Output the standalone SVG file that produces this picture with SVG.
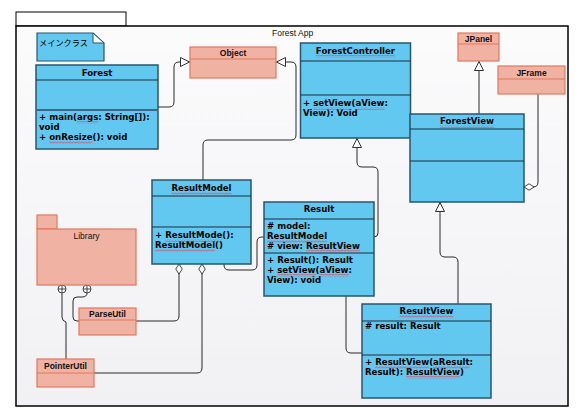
<svg xmlns="http://www.w3.org/2000/svg" width="585" height="416" viewBox="0 0 585 416">
  <defs>
    <linearGradient id="frameBg" x1="0" y1="0" x2="0" y2="1">
      <stop offset="0" stop-color="#fbfbfc"/>
      <stop offset="1" stop-color="#f1f1f4"/>
    </linearGradient>
    <!-- red squiggle used under flagged words -->
    <pattern id="wave" patternUnits="userSpaceOnUse" width="3" height="3">
      <path d="M0,2.5 L1.5,0.7 L3,2.5" fill="none" stroke="#e8405a" stroke-width="0.8"/>
    </pattern>
    <marker id="gen" viewBox="0 0 10 10" refX="10" refY="5" markerWidth="10" markerHeight="10" markerUnits="userSpaceOnUse" orient="auto">
      <path d="M0.5,0.5 L9.5,5 L0.5,9.5 Z" fill="#ffffff" stroke="#333333" stroke-width="1"/>
    </marker>
    <marker id="agg" viewBox="0 0 12 8" refX="11.5" refY="4" markerWidth="11" markerHeight="8" markerUnits="userSpaceOnUse" orient="auto">
      <path d="M0.5,4 L6,0.5 L11.5,4 L6,7.5 Z" fill="#ffffff" stroke="#333333" stroke-width="1"/>
    </marker>
    <style>
      .cls { fill: #62c8f0; stroke: #27566f; stroke-width: 1.5; }
      .sep { stroke: #1c2f3a; stroke-width: 1; }
      .sep2 { stroke: #3b6883; stroke-width: 2; }
      .ext { fill: #f0b2a2; stroke: #e0785f; stroke-width: 1.2; }
      .extsep { stroke: #e0785f; stroke-width: 1; }
      .t { font-family: "DejaVu Sans", Verdana, sans-serif; font-weight: bold; font-size: 8.6px; fill: #000; }
      .th { text-anchor: middle; }
      .s { font-family: "Liberation Sans", Arial, sans-serif; font-weight: bold; font-size: 8.5px; fill: #111; text-anchor: middle; }
      .lbl { font-family: "Liberation Sans", Arial, sans-serif; font-size: 8.5px; fill: #111; }
      .wv { fill: url(#wave); }
      .conn { fill: none; stroke: #2a2a2a; stroke-width: 1; }
    </style>
  </defs>

  <!-- diagram frame with its name tab -->
  <g id="frame">
    <rect x="16" y="12" width="110" height="14" fill="#ffffff" stroke="#000" stroke-width="1"/>
    <rect x="16" y="26" width="552" height="380" fill="url(#frameBg)" stroke="#000" stroke-width="1.5"/>
    <text class="lbl" x="272" y="36">Forest App</text>
  </g>

  <!-- note -->
  <g id="note-main">
    <path d="M37,33 H93 L104,43 V61 H37 Z" fill="#62c8f0" stroke="#27566f" stroke-width="1.2"/>
    <path d="M93,33 V43 H104 Z" fill="#ffffff" stroke="#27566f" stroke-width="1"/>
    <text x="39" y="46" font-family="'Noto Sans CJK JP', sans-serif" font-size="8.2px" fill="#000">メインクラス</text>
  </g>

  <!-- connectors -->
  <g id="connectors">
    <path class="conn" d="M158,107 H169 Q174,107 174,102 V67 Q174,62 179,62 H190" marker-end="url(#gen)"/>
    <path class="conn" d="M203,180 V145 Q203,140 208,140 H291 Q296,140 296,135 V67 Q296,62 291,62 H276" marker-end="url(#gen)"/>
    <path class="conn" d="M374,237 Q378,237 378,233 V172 Q378,167 373,167 H362 Q357,167 357,162 V138" marker-end="url(#gen)"/>
    <path class="conn" d="M479,114 V61" marker-end="url(#gen)"/>
    <path class="conn" d="M538,94 V182 Q538,187 533,187 H524" marker-end="url(#agg)"/>
    <path class="conn" d="M458,304 V262 Q458,257 453,257 H445 Q440,257 440,252 V202" marker-end="url(#gen)"/>
    <path class="conn" d="M346,296 V348 Q346,353 351,353 H362"/>
    <path class="conn" d="M224,264 V265 Q224,270 229,270 H252 Q257,270 257,265 V242 Q257,237 262,237 H264"/>
    <path class="conn" d="M136,321 H174 Q179,321 179,316 V264" marker-end="url(#agg)"/>
    <path class="conn" d="M94,373 H197 Q202,373 202,368 V264" marker-end="url(#agg)"/>
    <path class="conn" d="M62,293 V317 Q62,321 66,322 V359" stroke="#555"/>
    <path class="conn" d="M87,293 Q87,297 82,297 H77 Q73,297 73,301 V317 Q73,321 77,321 H79"/>
    <g fill="#ffffff" stroke="#333333" stroke-width="0.9">
      <circle cx="62" cy="289" r="4"/>
      <path d="M62,285 V293 M58,289 H66"/>
      <circle cx="87" cy="289" r="4"/>
      <path d="M87,285 V293 M83,289 H91"/>
    </g>
  </g>

  <!-- external / library classes -->
  <g id="object">
    <rect class="ext" x="190" y="47" width="86" height="31"/>
    <line class="extsep" x1="190" y1="59" x2="276" y2="59"/>
    <text class="s" x="233" y="56">Object</text>
  </g>
  <g id="jpanel">
    <rect class="ext" x="458" y="33" width="41" height="28"/>
    <line class="extsep" x1="458" y1="44" x2="499" y2="44"/>
    <text class="s" x="478.5" y="42">JPanel</text>
  </g>
  <g id="jframe">
    <rect class="ext" x="498" y="66" width="67" height="28"/>
    <line class="extsep" x1="498" y1="79" x2="565" y2="79"/>
    <text class="s" x="531.5" y="76">JFrame</text>
  </g>
  <g id="library">
    <rect class="ext" x="37" y="215" width="20" height="14"/>
    <rect class="ext" x="37" y="229" width="99" height="56"/>
    <text class="lbl" x="86.5" y="239" text-anchor="middle">Library</text>
  </g>
  <g id="parseutil">
    <rect class="ext" x="79" y="308" width="57" height="27"/>
    <line class="extsep" x1="79" y1="320" x2="136" y2="320"/>
    <text class="s" x="107.5" y="317">ParseUtil</text>
  </g>
  <g id="pointerutil">
    <rect class="ext" x="37" y="359" width="57" height="28"/>
    <line class="extsep" x1="37" y1="373" x2="94" y2="373"/>
    <text class="s" x="65.5" y="369">PointerUtil</text>
  </g>

  <!-- application classes -->
  <g id="forest">
    <rect class="cls" x="36" y="65" width="122" height="84"/>
    <line class="sep" x1="36" y1="80" x2="158" y2="80"/>
    <line class="sep2" x1="36" y1="110" x2="158" y2="110"/>
    <text class="t th" x="97" y="76">Forest</text>
    <text class="t" x="39" y="120">+ main(args: String[]):</text>
    <text class="t" x="39" y="130">void</text>
    <text class="t" x="39" y="140">+ onResize(): void</text>
    <rect class="wv" x="77" y="121" width="21.3" height="3"/>
    <rect class="wv" x="49.2" y="141" width="43.4" height="3"/>
  </g>

  <g id="forestcontroller">
    <rect class="cls" x="300.5" y="43" width="110" height="95"/>
    <line class="sep" x1="300.5" y1="61" x2="410.5" y2="61"/>
    <line class="sep" x1="300.5" y1="95" x2="410.5" y2="95"/>
    <text class="t th" x="355.5" y="54">ForestController</text>
    <text class="t" x="303" y="106">+ setView(aView:</text>
    <text class="t" x="303" y="116">View): Void</text>
    <rect class="wv" x="315.7" y="55" width="79.7" height="3"/>
    <rect class="wv" x="313.2" y="107" width="38.4" height="3"/>
    <rect class="wv" x="355.5" y="107" width="29.2" height="3"/>
  </g>

  <g id="forestview">
    <rect class="cls" x="410" y="114" width="114" height="88"/>
    <line class="sep" x1="410" y1="129" x2="524" y2="129"/>
    <line class="sep" x1="410" y1="161" x2="524" y2="161"/>
    <text class="t th" x="467" y="124">ForestView</text>
    <rect class="wv" x="439.8" y="125" width="54.5" height="3"/>
  </g>

  <g id="resultmodel">
    <rect class="cls" x="152" y="180" width="99" height="84"/>
    <line class="sep" x1="152" y1="196" x2="251" y2="196"/>
    <line class="sep" x1="152" y1="227" x2="251" y2="227"/>
    <text class="t th" x="201.5" y="191">ResultModel</text>
    <text class="t" x="155" y="238">+ ResultMode():</text>
    <text class="t" x="155" y="248">ResultModel()</text>
    <rect class="wv" x="171.4" y="192" width="60.2" height="3"/>
    <rect class="wv" x="165.2" y="239" width="57.2" height="3"/>
    <rect class="wv" x="155" y="249" width="60.2" height="3"/>
  </g>

  <g id="result">
    <rect class="cls" x="264" y="202" width="110" height="94"/>
    <line class="sep" x1="264" y1="219" x2="374" y2="219"/>
    <line class="sep" x1="264" y1="253" x2="374" y2="253"/>
    <text class="t th" x="319" y="212">Result</text>
    <text class="t" x="267" y="229"># model:</text>
    <text class="t" x="267" y="239">ResultModel</text>
    <text class="t" x="267" y="249"># view: ResultView</text>
    <text class="t" x="267" y="263">+ Result(): Result</text>
    <text class="t" x="267" y="273">+ setView(aView:</text>
    <text class="t" x="267" y="283">View): void</text>
    <rect class="wv" x="267" y="240" width="60.2" height="3"/>
    <rect class="wv" x="306" y="250" width="54.1" height="3"/>
    <rect class="wv" x="277.2" y="274" width="38.4" height="3"/>
    <rect class="wv" x="319.5" y="274" width="29.2" height="3"/>
  </g>

  <g id="resultview">
    <rect class="cls" x="362" y="304" width="129" height="94"/>
    <line class="sep" x1="362" y1="321" x2="491" y2="321"/>
    <line class="sep" x1="362" y1="355" x2="491" y2="355"/>
    <text class="t th" x="426.5" y="314">ResultView</text>
    <text class="t" x="365" y="329"># result: Result</text>
    <text class="t" x="365" y="365">+ ResultView(aResult:</text>
    <text class="t" x="365" y="375">Result): ResultView)</text>
    <rect class="wv" x="399.4" y="315" width="54.1" height="3"/>
    <rect class="wv" x="375.2" y="366" width="54.1" height="3"/>
    <rect class="wv" x="433.2" y="366" width="36.6" height="3"/>
    <rect class="wv" x="406.1" y="376" width="54.1" height="3"/>
  </g>
</svg>
